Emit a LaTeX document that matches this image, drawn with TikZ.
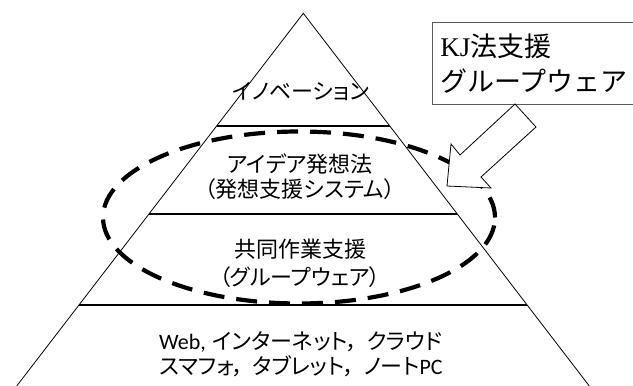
\documentclass[tikz,border=0pt]{standalone}
\usepackage{fontspec}
\usetikzlibrary{shapes.geometric}
\newfontfamily\jp[RawFeature=+palt]{Noto Sans CJK JP}
\newfontfamily\jpfull{Noto Sans CJK JP}
\newfontfamily\lat{Carlito}
\newfontfamily\ser{Liberation Serif}
\newcommand\jcomma{，\hspace{0.4em}}
\begin{document}
\begin{tikzpicture}[x=1pt,y=-1pt,
  edge/.style={line width=0.8pt,black},
  sep/.style={line width=1.4pt,black},
  layertext/.style={font=\jp\fontsize{22}{25}\selectfont,align=center,inner sep=0pt},
  oval/.style={line width=4.2pt,dash pattern=on 21pt off 12pt},
  callout/.style={draw=black!65,line width=0.8pt,fill=white,align=left,anchor=north west,
    minimum width=230pt,minimum height=82pt,inner xsep=7pt,text width=214pt,
    font=\jpfull\fontsize{27}{35}\selectfont},
  blockarrow/.style={draw=black,line width=0.8pt,fill=white,line join=miter}
]
\useasboundingbox (0,0) rectangle (633,386);
% pyramid
\coordinate (apex) at (303.3,13.3);
\coordinate (bl) at (16.7,386);
\coordinate (br) at (589.3,386);
\draw[edge] (bl) -- (apex) -- (br);
\coordinate (s1l) at (216.7,126); \coordinate (s1r) at (389.9,126);
\coordinate (s2l) at (149.1,214); \coordinate (s2r) at (457.4,214);
\coordinate (s3l) at (79.1,305);  \coordinate (s3r) at (527.4,305);
\draw[sep] (s1l) -- (s1r);
\draw[sep] (s2l) -- (s2r);
\draw[sep] (s3l) -- (s3r);
% layer texts
\node[layertext] (inno) at (301,92) {イノベーション};
\node[layertext,font=\jp\fontsize{22}{25}\selectfont] (idea) at (300,176.5) {アイデア発想法\\（発想支援システム）};
\node[layertext,font=\jp\fontsize{22}{28}\selectfont] (collab) at (300,263) {共同作業支援\\（グループウェア）};
\node[layertext,font=\jp\fontsize{22}{25}\selectfont] (infra) at (301,354) {{\lat Web,}\hspace{0.3em}インターネット\jcomma クラウド\\スマフォ\jcomma タブレット\jcomma ノート{\lat PC}};
% dashed oval
\node[draw,oval,ellipse,minimum width=392pt,minimum height=172pt,inner sep=0pt] (ring) at (299,217.5) {};
% callout box
\node[callout] (kj) at (432,22) {{\ser KJ}法支援\\グループウェア};
% block arrow
\coordinate (a1) at (515,104);
\coordinate (a2) at (536,127);
\coordinate (b2) at (481,177);
\coordinate (w2) at (491,188);
\coordinate (tip) at (447,186);
\coordinate (w1) at (451,144);
\coordinate (b1) at (460,155);
\draw[blockarrow] (a1) -- (b1) -- (w1) -- (tip) -- (w2) -- (b2) -- (a2) -- cycle;
\end{tikzpicture}
\end{document}
